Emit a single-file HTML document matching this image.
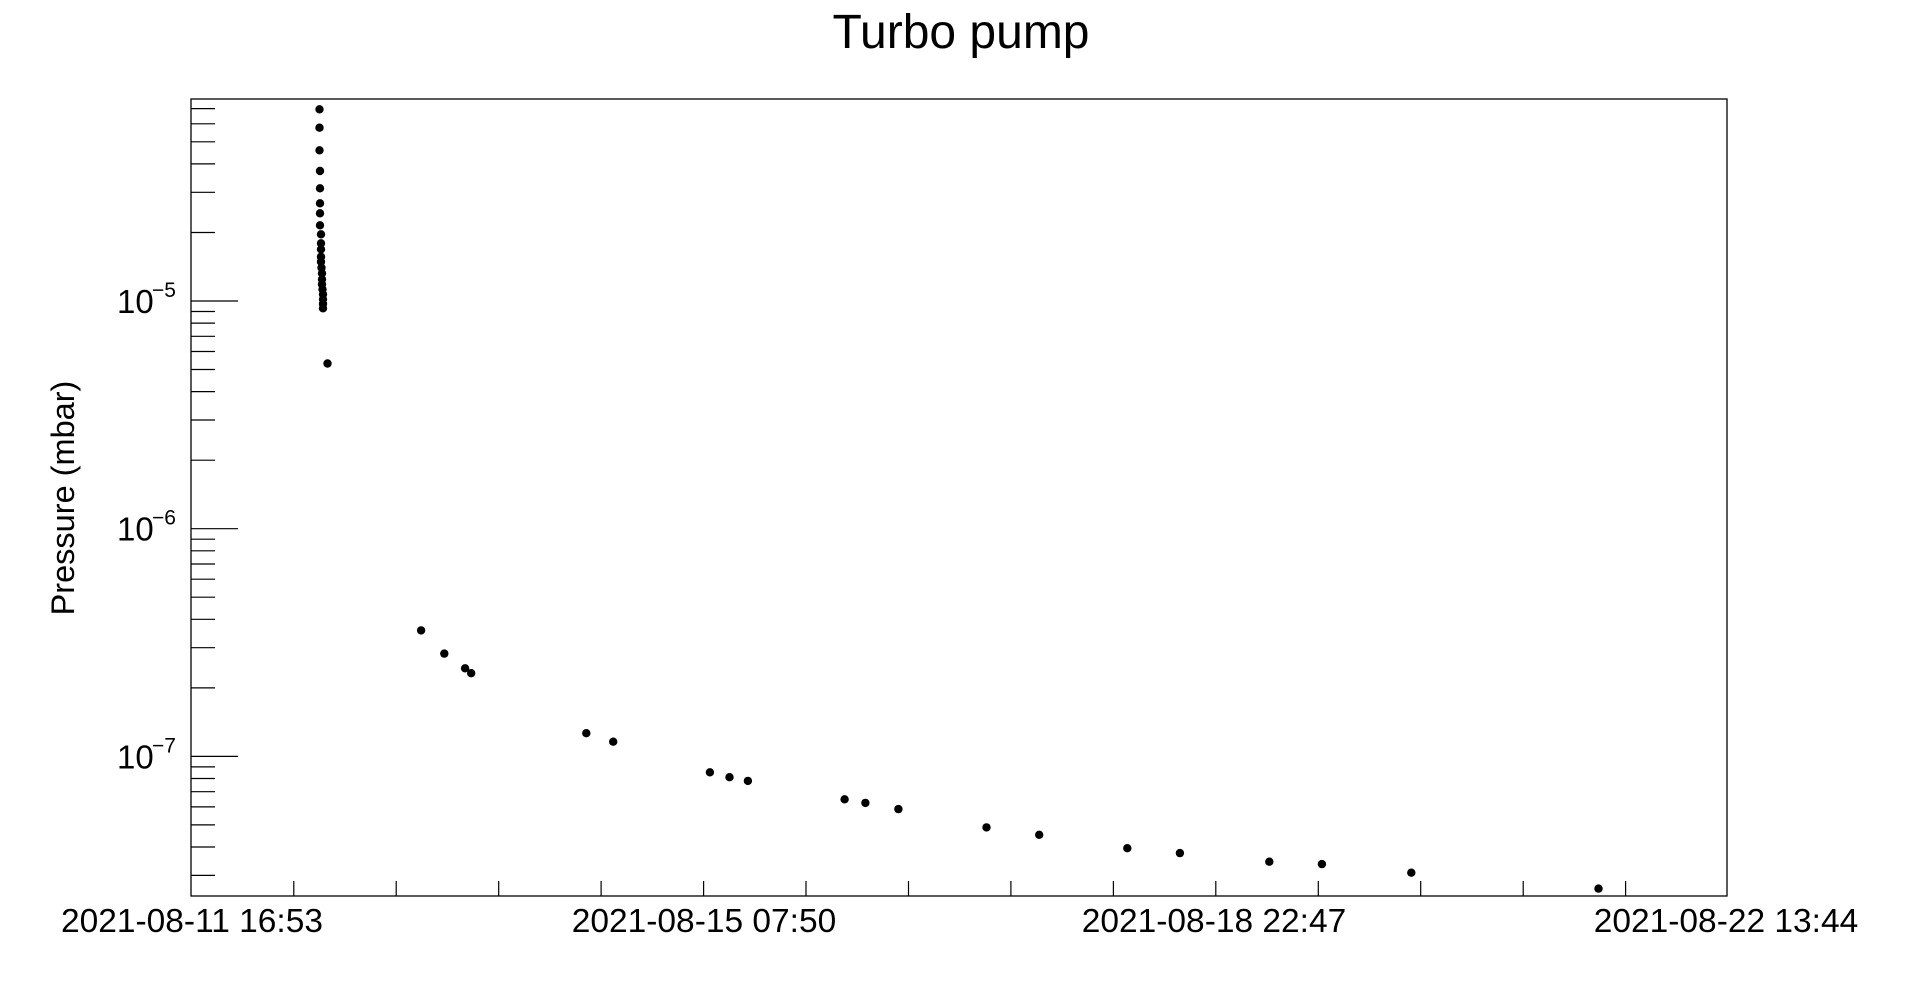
<!DOCTYPE html>
<html><head><meta charset="utf-8"><style>
html,body{margin:0;padding:0;background:#fff;}
svg{display:block;font-family:"Liberation Sans",Arial,sans-serif;}
</style></head><body>
<svg width="1918" height="998" viewBox="0 0 1918 998" xmlns="http://www.w3.org/2000/svg">
<rect width="1918" height="998" fill="#fff"/>
<text x="961" y="48" font-size="48" text-anchor="middle">Turbo pump</text>
<rect x="191" y="99" width="1536" height="797" fill="none" stroke="#000" stroke-width="1.3"/>
<g stroke="#000" stroke-width="1.2">
<line x1="191" y1="301" x2="238" y2="301"/>
<line x1="191" y1="528.7" x2="238" y2="528.7"/>
<line x1="191" y1="756.4" x2="238" y2="756.4"/>
<line x1="191" y1="232.5" x2="215" y2="232.5"/><line x1="191" y1="192.3" x2="215" y2="192.3"/><line x1="191" y1="163.9" x2="215" y2="163.9"/><line x1="191" y1="141.8" x2="215" y2="141.8"/><line x1="191" y1="123.8" x2="215" y2="123.8"/><line x1="191" y1="108.6" x2="215" y2="108.6"/>
<line x1="191" y1="460.2" x2="215" y2="460.2"/><line x1="191" y1="420" x2="215" y2="420"/><line x1="191" y1="391.6" x2="215" y2="391.6"/><line x1="191" y1="369.5" x2="215" y2="369.5"/><line x1="191" y1="351.5" x2="215" y2="351.5"/><line x1="191" y1="336.3" x2="215" y2="336.3"/><line x1="191" y1="323.1" x2="215" y2="323.1"/><line x1="191" y1="311.5" x2="215" y2="311.5"/>
<line x1="191" y1="687.9" x2="215" y2="687.9"/><line x1="191" y1="647.7" x2="215" y2="647.7"/><line x1="191" y1="619.3" x2="215" y2="619.3"/><line x1="191" y1="597.2" x2="215" y2="597.2"/><line x1="191" y1="579.2" x2="215" y2="579.2"/><line x1="191" y1="564" x2="215" y2="564"/><line x1="191" y1="550.8" x2="215" y2="550.8"/><line x1="191" y1="539.2" x2="215" y2="539.2"/>
<line x1="191" y1="875.4" x2="215" y2="875.4"/><line x1="191" y1="847" x2="215" y2="847"/><line x1="191" y1="824.9" x2="215" y2="824.9"/><line x1="191" y1="806.9" x2="215" y2="806.9"/><line x1="191" y1="791.7" x2="215" y2="791.7"/><line x1="191" y1="778.5" x2="215" y2="778.5"/><line x1="191" y1="766.9" x2="215" y2="766.9"/>
<line x1="293.8" y1="896" x2="293.8" y2="881"/><line x1="396.2" y1="896" x2="396.2" y2="881"/><line x1="498.7" y1="896" x2="498.7" y2="881"/><line x1="601.1" y1="896" x2="601.1" y2="881"/><line x1="703.6" y1="896" x2="703.6" y2="881"/><line x1="806" y1="896" x2="806" y2="881"/><line x1="908.5" y1="896" x2="908.5" y2="881"/><line x1="1010.9" y1="896" x2="1010.9" y2="881"/><line x1="1113.4" y1="896" x2="1113.4" y2="881"/><line x1="1215.8" y1="896" x2="1215.8" y2="881"/><line x1="1318.3" y1="896" x2="1318.3" y2="881"/><line x1="1420.7" y1="896" x2="1420.7" y2="881"/><line x1="1523.2" y1="896" x2="1523.2" y2="881"/><line x1="1625.6" y1="896" x2="1625.6" y2="881"/>
</g>
<g font-size="33">
<text x="117" y="313">10</text><text x="152" y="297" font-size="21">−5</text>
<text x="117" y="540.7">10</text><text x="152" y="524.7" font-size="21">−6</text>
<text x="117" y="768.4">10</text><text x="152" y="752.4" font-size="21">−7</text>
</g>
<g font-size="33.5" text-anchor="middle">
<text x="192" y="932">2021-08-11 16:53</text>
<text x="704" y="932">2021-08-15 07:50</text>
<text x="1214" y="932">2021-08-18 22:47</text>
<text x="1726" y="932">2021-08-22 13:44</text>
</g>
<text transform="translate(74,498) rotate(-90)" font-size="32.5" text-anchor="middle">Pressure (mbar)</text>
<g fill="#000">
<circle cx="319.5" cy="109.3" r="4.2"/><circle cx="319.5" cy="127.7" r="4.2"/><circle cx="319.5" cy="150.3" r="4.2"/><circle cx="320" cy="171" r="4.2"/><circle cx="320" cy="188.3" r="4.2"/><circle cx="320" cy="203.3" r="4.2"/><circle cx="320" cy="213.3" r="4.2"/><circle cx="320" cy="225.3" r="4.2"/><circle cx="321" cy="234.3" r="4.2"/><circle cx="321" cy="243.3" r="4.2"/><circle cx="321" cy="249.3" r="4.2"/><circle cx="321" cy="256.7" r="4.2"/><circle cx="321" cy="261.7" r="4.2"/><circle cx="321.5" cy="267.7" r="4.2"/><circle cx="322" cy="273.3" r="4.2"/><circle cx="322" cy="279.3" r="4.2"/><circle cx="322" cy="284.3" r="4.2"/><circle cx="322.5" cy="289.3" r="4.2"/><circle cx="323" cy="294.3" r="4.2"/><circle cx="323" cy="299.3" r="4.2"/><circle cx="323" cy="304" r="4.2"/><circle cx="323" cy="308.3" r="4.2"/>
<circle cx="327.5" cy="363.5" r="4.2"/>
<circle cx="421.1" cy="630.4" r="4.2"/><circle cx="444.3" cy="653.6" r="4.2"/><circle cx="465.1" cy="668.3" r="4.2"/><circle cx="471.2" cy="673.2" r="4.2"/><circle cx="586.3" cy="733.2" r="4.2"/><circle cx="613.2" cy="741.7" r="4.2"/><circle cx="709.9" cy="772.3" r="4.2"/><circle cx="729.5" cy="777.2" r="4.2"/><circle cx="747.9" cy="780.9" r="4.2"/><circle cx="844.6" cy="799.3" r="4.2"/><circle cx="865.4" cy="802.9" r="4.2"/><circle cx="898.4" cy="809.1" r="4.2"/><circle cx="986.5" cy="827.4" r="4.2"/><circle cx="1039.2" cy="834.8" r="4.2"/><circle cx="1127.3" cy="848.2" r="4.2"/><circle cx="1179.9" cy="853.1" r="4.2"/><circle cx="1269.3" cy="861.7" r="4.2"/><circle cx="1321.9" cy="864.1" r="4.2"/><circle cx="1411.3" cy="872.7" r="4.2"/><circle cx="1598.5" cy="888.6" r="4.2"/>
</g>
</svg>
</body></html>
